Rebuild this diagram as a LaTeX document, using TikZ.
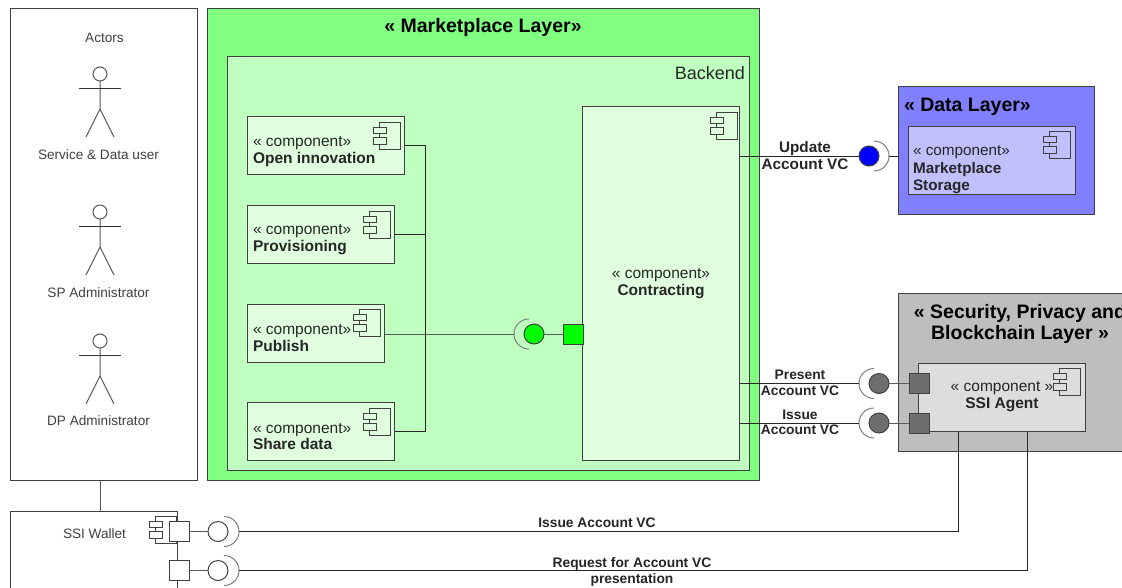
\documentclass[tikz,border=0pt]{standalone}
\usepackage{fontspec}
\setmainfont{Liberation Sans}
\definecolor{mkgreen}{HTML}{80FF80}
\definecolor{bkgreen}{HTML}{BFFFBF}
\definecolor{cpgreen}{HTML}{DFFFDF}
\definecolor{dlblue}{HTML}{8080FF}
\definecolor{cpblue}{HTML}{C0C0FF}
\definecolor{secgray}{HTML}{BEBEBE}
\definecolor{aggray}{HTML}{DDDDDD}
\definecolor{prgray}{HTML}{6E6E6E}
\definecolor{edge}{HTML}{404040}
\definecolor{soft}{HTML}{5A5A5A}
\tikzset{
  rectbox/.style={draw=edge,line width=1pt,inner sep=0pt,outer sep=0pt,anchor=north west},
  portbox/.style={rectbox,minimum width=20pt,minimum height=20pt,anchor=center},
  ball/.style={circle,draw=edge,line width=1pt,minimum size=20pt,inner sep=0pt,outer sep=0pt},
  wire/.style={line width=0.9pt,draw=black!85},
  softwire/.style={line width=1pt,draw=soft},
  cup/.style={line width=1pt,draw=gray},
  stick/.style={line width=1pt,draw=soft},
  txt/.style={inner sep=0pt,outer sep=0pt,text=black!85},
  comptxt/.style={txt,align=left,anchor=west,font=\fontsize{15.5}{16.8}\selectfont},
  compctr/.style={txt,align=center,font=\fontsize{15.5}{17.2}\selectfont},
  lbl/.style={txt,align=center,font=\fontsize{13.8}{15.6}\selectfont\bfseries},
  actlbl/.style={txt,font=\fontsize{13.6}{16}\selectfont,text=black!75},
  layer/.style={txt,align=center,font=\fontsize{19.5}{21}\selectfont\bfseries,text=black},
}
\newcommand{\rectnode}[6]{%
  \pgfmathsetmacro\rw{#4-#2}\pgfmathsetmacro\rh{#5-#3}%
  \node[rectbox,#6,minimum width=\rw pt,minimum height=\rh pt] (#1) at (#2,#3) {};}
\newcommand{\compicon}[3]{%
  \begin{scope}[shift={(#1,#2)}]
    \draw[edge,line width=0.9pt,fill=#3] (0,0) rectangle (21,27);
    \draw[edge,line width=0.9pt,fill=#3] (-6,5) rectangle (7,11);
    \draw[edge,line width=0.9pt,fill=#3] (-6,15) rectangle (7,22);
  \end{scope}}
\newcommand{\cupright}[1]{\draw[cup] ([yshift=15pt]#1) arc[start angle=90,end angle=-90,radius=15pt];}
\newcommand{\cupleft}[1]{\draw[cup] ([yshift=15pt]#1) arc[start angle=90,end angle=270,radius=15pt];}
\newcommand{\actor}[1]{%
  \begin{scope}[shift={(100,#1)}]
    \draw[stick] (0,0) circle[radius=7pt];
    \draw[stick] (0,7) -- (0,35) -- (-14,63);
    \draw[stick] (0,35) -- (14,63);
    \draw[line width=1pt,black!80] (-21,14) -- (21,14);
  \end{scope}}
\begin{document}
\begin{tikzpicture}[x=1pt,y=-1pt]
\useasboundingbox (0,0) rectangle (1122,587);
\clip (0,0) rectangle (1122,587);
\fill[white] (0,0) rectangle (1122,587);

% Actors
\rectnode{ac}{10.5}{8.5}{197.5}{480.5}{fill=white}
\rectnode{wl}{10.5}{511}{177.5}{610}{fill=white}
\coordinate (acw) at (100,0);
\draw[softwire] (ac.south -| acw) -- (wl.north -| acw);
\node[actlbl] (actors) at (104.5,37.5) {Actors};
\actor{74}
\node[actlbl] (a1) at (98.5,155) {Service \& Data user};
\actor{212}
\node[actlbl] (a2) at (98.5,293) {SP Administrator};
\actor{341}
\node[actlbl] (a3) at (98.5,421) {DP Administrator};

% Marketplace layer
\rectnode{mk}{207.5}{8.5}{759.5}{480.5}{fill=mkgreen}
\rectnode{bk}{227.5}{56.5}{749.5}{470.5}{fill=bkgreen}
\node[layer] (mkt) at (483,27.5) {« Marketplace Layer»};
\node[txt,font=\fontsize{18}{20}\selectfont,anchor=east] (bkt) at (745,73) {Backend};

\rectnode{oi}{247.5}{116.5}{404.5}{174.5}{fill=cpgreen}
\rectnode{pv}{247.5}{205.5}{394.5}{263.5}{fill=cpgreen}
\rectnode{pb}{247.5}{304.5}{384.5}{362}{fill=cpgreen}
\rectnode{sd}{247.5}{402.5}{394.5}{460.5}{fill=cpgreen}
\rectnode{ct}{582.5}{106.5}{739.5}{460.5}{fill=cpgreen}
\compicon{379}{122}{cpgreen}
\compicon{369.5}{211}{cpgreen}
\compicon{359.5}{309.5}{cpgreen}
\compicon{369.5}{408}{cpgreen}
\compicon{716}{112}{cpgreen}
\node[comptxt] (oit) at (253,151.5) {« component»\\\textbf{Open innovation}};
\node[comptxt] (pvt) at (253,240) {« component»\\\textbf{Provisioning}};
\node[comptxt] (pbt) at (253,338) {« component»\\\textbf{Publish}};
\node[comptxt] (sdt) at (253,436.5) {« component»\\\textbf{Share data}};
\node[compctr] (ctt) at (661,283.5) {« component»\\\textbf{Contracting}};

% Bus and the green interface
\coordinate (bus) at (425,0);
\draw[wire] (oi.east) -- (oi.east -| bus) -- (sd.east -| bus) -- (sd.east);
\draw[wire] (pv.east) -- (pv.east -| bus);
\node[portbox,fill=green] (gp) at (573,334) {};
\node[ball,fill=green] (gb) at (534,334) {};
\coordinate (gc) at (529,334);
\cupleft{gc}
\draw[softwire] (pb.east |- gc) -- ([xshift=-15pt]gc);
\draw[softwire] (gb) -- (gp);

% Data layer
\rectnode{dl}{898.5}{86.5}{1094.5}{214.5}{fill=dlblue}
\rectnode{ms}{908}{126.5}{1075}{194.5}{fill=cpblue}
\node[layer,anchor=west] (dlt) at (904,106.5) {« Data Layer»};
\compicon{1049.5}{131.5}{cpblue}
\node[comptxt,font=\fontsize{15.3}{17.6}\selectfont] (mst) at (913,170) {« component»\\\textbf{Marketplace}\\\textbf{Storage}};
\node[ball,fill=blue] (bb) at (869,156) {};
\coordinate (bc) at (874,156);
\cupright{bc}
\draw[wire] (ct.east |- bb) -- (bb);
\draw[wire] ([xshift=15pt]bc) -- (dl.west |- bc);
\node[lbl,font=\fontsize{15.3}{17}\selectfont\bfseries] (ulb) at (805,155.5) {Update\\Account VC};

% Security layer
\rectnode{sc}{898.5}{293.5}{1140}{451}{fill=secgray}
\node[layer] (sct) at (1020,323.5) {« Security, Privacy and\\Blockchain Layer »};
\rectnode{ag}{918}{363.5}{1085}{431.5}{fill=aggray}
\compicon{1059.5}{368.5}{aggray}
\node[compctr] (agt) at (1002,396.5) {« component »\\\textbf{SSI Agent}};
\node[portbox,fill=prgray] (p1) at (919,383.5) {};
\node[portbox,fill=prgray] (p2) at (919,423) {};
\node[ball,fill=prgray] (b1) at (879,383.5) {};
\node[ball,fill=prgray] (b2) at (879,423) {};
\coordinate (c1) at (874,383.5);
\coordinate (c2) at (874,423);
\cupleft{c1}
\cupleft{c2}
\draw[wire] (ct.east |- c1) -- ([xshift=-15pt]c1);
\draw[wire] (ct.east |- c2) -- ([xshift=-15pt]c2);
\draw[softwire] (b1) -- (p1);
\draw[softwire] (b2) -- (p2);
\node[lbl] (plb) at (800,383) {Present\\Account VC};
\node[lbl] (ilb) at (800,422.5) {Issue\\Account VC};

% SSI wallet
\node[actlbl] (wlt) at (94.5,534) {SSI Wallet};
\compicon{155}{516}{white}
\node[portbox,fill=white] (w1) at (179,531.5) {};
\node[portbox,fill=white] (w2) at (179,570.5) {};
\node[ball,fill=white] (wb1) at (218,531.5) {};
\node[ball,fill=white] (wb2) at (218,570.5) {};
\coordinate (wc1) at (224,531.5);
\coordinate (wc2) at (224,570.5);
\cupright{wc1}
\cupright{wc2}
\draw[softwire] (w1) -- (wb1);
\draw[softwire] (w2) -- (wb2);
\coordinate (t1) at (958,432);
\coordinate (t2) at (1027,432);
\draw[wire] ([xshift=15pt]wc1) -| (t1);
\draw[wire] ([xshift=15pt]wc2) -| (t2);
\node[lbl] (i2) at (597,523) {Issue Account VC};
\node[lbl] (r2) at (632,572) {Request for Account VC\\presentation};
\end{tikzpicture}
\end{document}
